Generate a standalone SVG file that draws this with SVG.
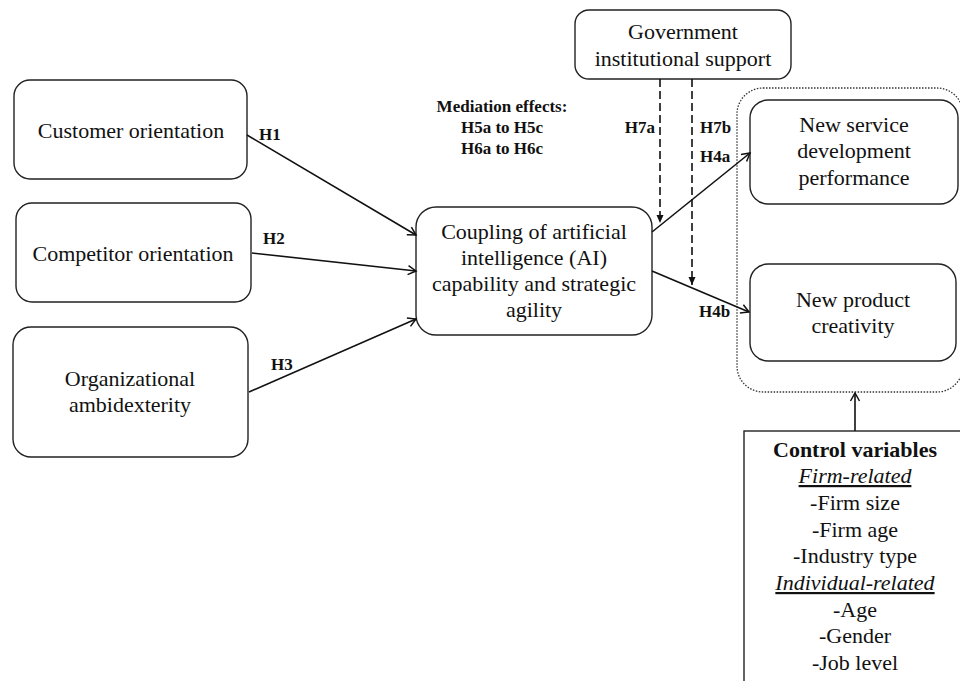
<svg xmlns="http://www.w3.org/2000/svg" width="960" height="681" viewBox="0 0 960 681">
<style>
.box{fill:#fff;stroke:#222;stroke-width:1.4}
.t{font-family:"Liberation Serif","Times New Roman",serif;font-size:22px;fill:#111;text-anchor:middle}
.lb{font-family:"Liberation Serif","Times New Roman",serif;font-size:17px;font-weight:bold;fill:#111}
.c{fill:none;stroke:#111;stroke-width:1.6}
.d{fill:none;stroke:#111;stroke-width:1.6;stroke-dasharray:8,4}
</style>
<defs>
<marker id="ah" markerWidth="12" markerHeight="12" refX="10" refY="6" orient="auto" markerUnits="userSpaceOnUse">
<path d="M2,1.5 L10,6 L2,10.5" fill="none" stroke="#111" stroke-width="1.5"/>
</marker>
<marker id="ad" markerWidth="10" markerHeight="10" refX="9" refY="5" orient="auto" markerUnits="userSpaceOnUse">
<path d="M1,1.5 L9,5 L1,8.5 Z" fill="#111"/>
</marker>
</defs>
<rect x="737" y="88" width="226" height="304" rx="26" fill="none" stroke="#333" stroke-width="1.3" stroke-dasharray="1.5,1.5"/>
<g id="customer"><rect class="box" x="14" y="80" width="233" height="99" rx="16"/><text class="t" x="131" y="138">Customer orientation</text></g>
<g id="competitor"><rect class="box" x="16" y="203" width="235" height="99" rx="16"/><text class="t" x="133" y="261">Competitor orientation</text></g>
<g id="ambidexterity"><rect class="box" x="13" y="327" width="235" height="130" rx="18"/><text class="t" x="130" y="386">Organizational</text><text class="t" x="130" y="412">ambidexterity</text></g>
<g id="coupling"><rect class="box" x="416" y="207" width="236" height="128" rx="20"/><text class="t" x="534" y="239">Coupling of artificial</text><text class="t" x="534" y="265">intelligence (AI)</text><text class="t" x="534" y="291">capability and strategic</text><text class="t" x="534" y="317">agility</text></g>
<g id="government"><rect class="box" x="575" y="10" width="216" height="69" rx="14"/><text class="t" x="683" y="39">Government</text><text class="t" x="683" y="66">institutional support</text></g>
<g id="nsd"><rect class="box" x="750" y="100" width="208" height="104" rx="18"/><text class="t" x="854" y="132">New service</text><text class="t" x="854" y="158">development</text><text class="t" x="854" y="185">performance</text></g>
<g id="npc"><rect class="box" x="750" y="264" width="206" height="97" rx="18"/><text class="t" x="853" y="307">New product</text><text class="t" x="853" y="333">creativity</text></g>
<g id="controls"><rect x="744" y="431" width="230" height="270" fill="#fff" stroke="#222" stroke-width="1.4"/>
<text class="t" x="855" y="457" font-weight="bold">Control variables</text>
<text class="t" x="855" y="483" font-style="italic" text-decoration="underline">Firm-related</text>
<text class="t" x="855" y="510">-Firm size</text>
<text class="t" x="855" y="537">-Firm age</text>
<text class="t" x="855" y="563">-Industry type</text>
<text class="t" x="855" y="590" font-style="italic" text-decoration="underline">Individual-related</text>
<text class="t" x="855" y="617">-Age</text>
<text class="t" x="855" y="643">-Gender</text>
<text class="t" x="855" y="670">-Job level</text></g>
<g id="connectors">
<line class="c" x1="247" y1="135" x2="416" y2="235" marker-end="url(#ah)"/>
<line class="c" x1="252" y1="253" x2="416" y2="271" marker-end="url(#ah)"/>
<line class="c" x1="249" y1="392" x2="416" y2="319" marker-end="url(#ah)"/>
<line class="c" x1="652" y1="232" x2="750" y2="153" marker-end="url(#ah)"/>
<line class="c" x1="652" y1="271" x2="749" y2="312" marker-end="url(#ah)"/>
<line class="d" x1="660" y1="79" x2="660" y2="223" marker-end="url(#ad)"/>
<line class="d" x1="692" y1="79" x2="692" y2="285" marker-end="url(#ad)"/>
<line class="c" x1="855" y1="431" x2="855" y2="393" marker-end="url(#ah)"/>
</g>
<g id="labels">
<text class="lb" x="259" y="140">H1</text>
<text class="lb" x="263" y="244">H2</text>
<text class="lb" x="271" y="370">H3</text>
<text class="lb" x="655" y="133" text-anchor="end">H7a</text>
<text class="lb" x="700" y="133">H7b</text>
<text class="lb" x="700" y="162">H4a</text>
<text class="lb" x="699" y="317">H4b</text>
<text class="lb" x="502" y="112" text-anchor="middle">Mediation effects:</text>
<text class="lb" x="502" y="133" text-anchor="middle">H5a to H5c</text>
<text class="lb" x="502" y="154" text-anchor="middle">H6a to H6c</text>
</g>
</svg>
